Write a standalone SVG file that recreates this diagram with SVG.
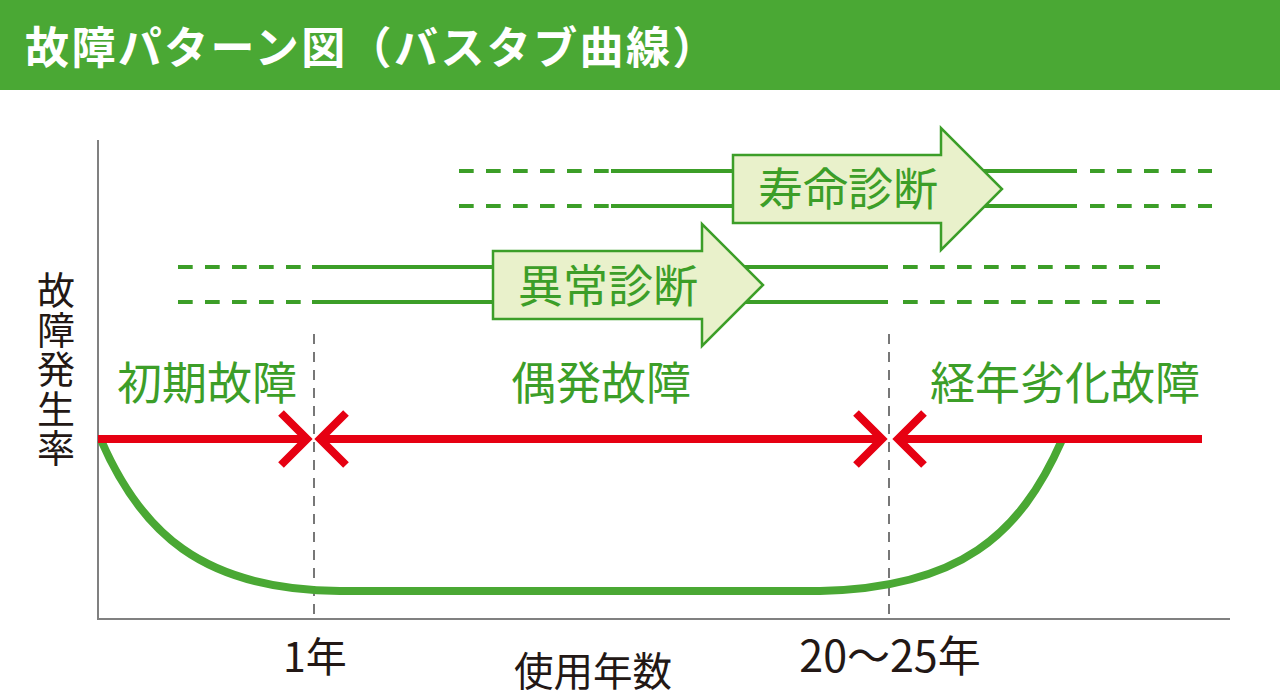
<svg xmlns="http://www.w3.org/2000/svg" width="1280" height="700" viewBox="0 0 1280 700">
<style>
text{font-family:"Noto Sans CJK JP","Noto Sans",sans-serif}
.g{fill:#4aa834}
.k{fill:#231815}
.t{font-size:45px;fill:#3c9e28;text-anchor:middle}
.a{fill:#e9f1cb;stroke:#3c9e28;stroke-width:2.5}
.s{stroke:#3c9e28;stroke-width:4;fill:none}
.d{stroke:#3c9e28;stroke-width:4;fill:none;stroke-dasharray:14.7 12.3}
.r{stroke:#e60012;stroke-width:8;fill:none;stroke-miterlimit:10}
.v{stroke:#777;stroke-width:2;stroke-dasharray:10 8;fill:none}
.x{text-anchor:middle}
</style>
<rect width="1280" height="700" fill="#fff"/>
<g id="header"><rect width="1280" height="90" class="g"/><text x="25" y="64" font-size="44" font-weight="700" fill="#fff" letter-spacing="2.4">故障パターン図（バスタブ曲線）</text></g>
<g id="axes"><path d="M98 140V619H1230" fill="none" stroke="#808080" stroke-width="2"/>
<text x="56" y="271" font-size="38" class="k" letter-spacing="1.4" style="writing-mode:vertical-rl">故障発生率</text>
<text x="315" y="672" font-size="41" class="x k">1年</text>
<text x="890" y="672" font-size="43" class="x k">20～25年</text>
<text x="593" y="686" font-size="39.5" class="k" text-anchor="middle">使用年数</text></g>
<g id="connectors">
<path class="d" d="M459 171H609M459 206H609M1090 171H1212M1090 206H1212M178 267H310M178 302H310M903 267H1160M903 302H1160"/>
<path class="s" d="M611 171H1077M611 206H1077M312 267H888M312 302H888"/>
<path class="v" d="M314 334V619M889 334V619"/>
<path d="M101 440C140 530 200 590 340 591H820C960 588 1020 535 1062 440" fill="none" stroke="#4aa834" stroke-width="8"/>
<path class="r" d="M98 439H305M322 439H880M900 439H1202M281 413L307 439L281 465M346 413L320 439L346 465M856 413L882 439L856 465M924 413L898 439L924 465"/>
</g>
<g id="n1"><path class="a" d="M733 155H941V128L1002 189L941 250V223H733Z"/><text x="848" y="206" class="t">寿命診断</text></g>
<g id="n2"><path class="a" d="M493 251H702V224L763 285L702 346V319H493Z"/><text x="608" y="303" class="t">異常診断</text></g>
<g id="l1"><text x="207" y="400" class="t">初期故障</text></g>
<g id="l2"><text x="601" y="400" class="t">偶発故障</text></g>
<g id="l3"><text x="1065" y="400" class="t">経年劣化故障</text></g>
</svg>
